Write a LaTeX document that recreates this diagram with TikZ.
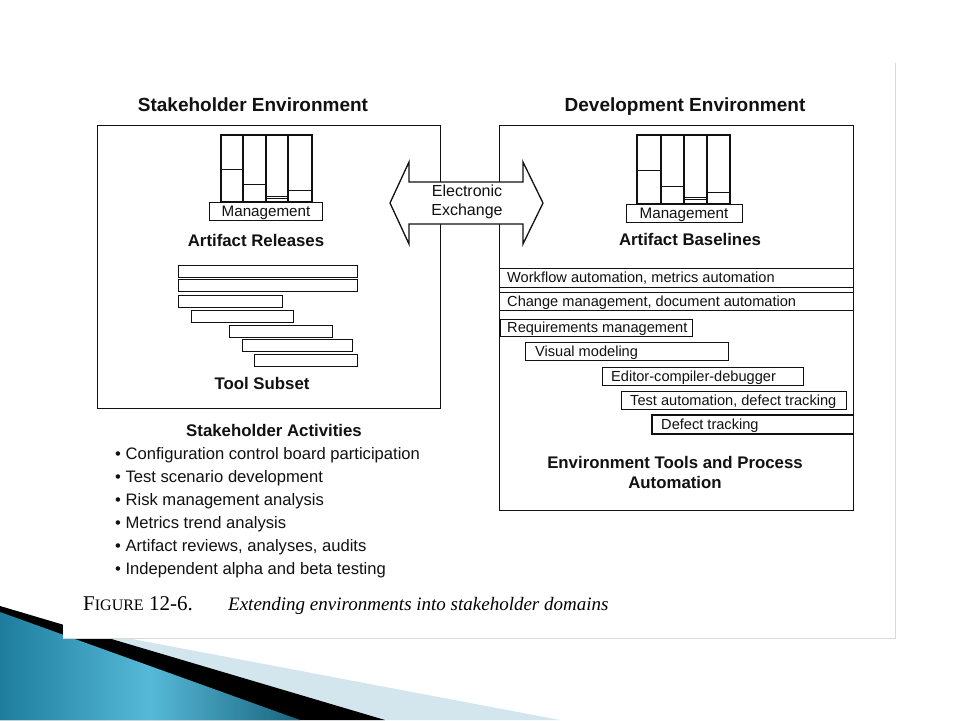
\documentclass[tikz,border=0pt]{standalone}
\usepackage{fontspec}
\setmainfont{Liberation Sans}
\newfontfamily\capfont{Liberation Serif}
\definecolor{decoblue}{HTML}{1E7D9C}
\definecolor{decomid}{HTML}{56B9D8}
\definecolor{decolight}{HTML}{D3E6EE}
\definecolor{ink}{HTML}{111111}
\begin{document}
\begin{tikzpicture}[x=1pt,y=-1pt,
  ln/.style={draw=ink,line width=1.3pt},
  envbox/.style={ln,rectangle,inner sep=0pt,anchor=north west},
  bar/.style={ln,rectangle,inner sep=0pt,anchor=north west,fill=white},
  title/.style={font=\fontsize{19}{22}\selectfont\bfseries,text=ink,anchor=base,inner sep=0pt},
  label/.style={font=\fontsize{16.8}{20}\selectfont\bfseries,text=ink,align=center,anchor=base,inner sep=0pt},
  bartext/.style={font=\fontsize{14.6}{17}\selectfont,text=ink,anchor=base west,inner sep=0pt},
  mgmt/.style={font=\fontsize{15.2}{17}\selectfont,text=ink,inner sep=0pt,anchor=base},
  bullet/.style={font=\fontsize{16.6}{19}\selectfont,text=ink,anchor=base west,inner sep=0pt}]
\useasboundingbox (0,0) rectangle (960,720);
% decoration
\fill[decolight] (0,614) -- (560,720) -- (0,720) -- cycle;
\fill[black] (0,606) -- (385,720) -- (0,720) -- cycle;
\shade[left color=decoblue,right color=decoblue!80!black,middle color=decomid]
  (0,612) -- (300,720) -- (0,720) -- cycle;
% slide picture
\node[fill=white,inner sep=0pt,anchor=north west,
  minimum width=832pt,minimum height=575pt] (sheet) at (63,63) {};
\draw[gray!30,line width=0.8pt] (sheet.north east) -- (sheet.south east) -- (sheet.south west);

% titles
\node[title] (lt) at (253,111) {Stakeholder Environment};
\node[title] (rt) at (685,111) {Development Environment};

% environment boxes
\node[envbox,minimum width=343pt,minimum height=283pt] (lbox) at (97,125) {};
\node[envbox,minimum width=354pt,minimum height=385pt] (rbox) at (499,125) {};

% left artifact columns
\foreach \a/\b/\h in {221/243/169,243/266/184,266/288/196,288/312/190}{
  \draw[ln,line width=1.1pt] (\a,135) rectangle (\b,202);
  \draw[ln,line width=0.9pt] (\a,\h) -- (\b,\h);
}
\draw[ln,line width=0.9pt] (266,198.5) -- (288,198.5);
\node[bar,minimum width=113pt,minimum height=18pt] (lmg) at (209,202) {};
\node[mgmt] (lmgt) at (266,216) {Management};
\node[label] (lrel) at (256,246) {Artifact Releases};

% right artifact columns
\foreach \a/\b/\h in {637/661/170,661/684/186,684/707/197,707/730/192}{
  \draw[ln,line width=1.1pt] (\a,135) rectangle (\b,204);
  \draw[ln,line width=0.9pt] (\a,\h) -- (\b,\h);
}
\draw[ln,line width=0.9pt] (684,199.5) -- (707,199.5);
\node[bar,minimum width=116pt,minimum height=18pt] (rmg) at (626,204) {};
\node[mgmt] (rmgt) at (684,218) {Management};
\node[label] (rbas) at (690,245) {Artifact Baselines};

% tool subset bars
\foreach \n/\x/\y/\w in {1/178/265/179,2/178/279/179,3/178/295/104,4/191/310/102,5/229/325/103,6/242/339/110,7/254/354/103}{
  \node[bar,minimum width=\w pt,minimum height=11.5pt] (ts\n) at (\x,\y) {};
}
\node[label] (tsub) at (262,389) {Tool Subset};

% stakeholder activities
\node[label] (sact) at (274,436) {Stakeholder Activities};
\node[bullet] (b1) at (115,459) {• Configuration control board participation};
\node[bullet] (b2) at (115,482) {• Test scenario development};
\node[bullet] (b3) at (115,505) {• Risk management analysis};
\node[bullet] (b4) at (115,528) {• Metrics trend analysis};
\node[bullet] (b5) at (115,551) {• Artifact reviews, analyses, audits};
\node[bullet] (b6) at (115,574) {• Independent alpha and beta testing};

% development tool bars
\node[bar,minimum width=354pt,minimum height=19pt] (d1) at (499,268) {};
\node[bartext] (d1t) at (507,282.5) {Workflow automation, metrics automation};
\node[bar,minimum width=354pt,minimum height=18pt] (d2) at (499,292) {};
\node[bartext] (d2t) at (507,306) {Change management, document automation};
\node[bar,minimum width=192pt,minimum height=17pt] (d3) at (500,319) {};
\node[bartext] (d3t) at (507,332.5) {Requirements management};
\node[bar,minimum width=203pt,minimum height=18pt] (d4) at (525,342) {};
\node[bartext] (d4t) at (535,356) {Visual modeling};
\node[bar,minimum width=201pt,minimum height=18pt] (d5) at (602,367) {};
\node[bartext] (d5t) at (611,381) {Editor-compiler-debugger};
\node[bar,minimum width=225pt,minimum height=18pt] (d6) at (621,391) {};
\node[bartext] (d6t) at (630,405) {Test automation, defect tracking};
\draw[ln] (rbox.east |- 0,415) -- (652,415) -- (652,434) -- (rbox.east |- 0,434);
\node[bartext] (d7t) at (661,429.5) {Defect tracking};
\node[font=\fontsize{16.8}{20}\selectfont\bfseries,text=ink,align=center,inner sep=0pt] (etp) at (675,472)
  {Environment Tools and Process\\Automation};

% electronic exchange double arrow
\draw[ln,fill=white] (390,203) -- (409,162) -- (409,182) -- (523,182) -- (523,162)
  -- (543,203) -- (523,244) -- (523,224) -- (409,224) -- (409,244) -- cycle;
\node[font=\fontsize{16}{19}\selectfont,text=ink,align=center,inner sep=0pt] (ee) at (467,202)
  {Electronic\\Exchange};

% caption
\node[font=\capfont\fontsize{21}{24}\selectfont,anchor=base west,inner sep=0pt] (capa) at (83,610)
  {F{\fontsize{16}{18}\selectfont IGURE} 12-6.};
\node[font=\capfont\itshape\fontsize{19}{22}\selectfont,anchor=base west,inner sep=0pt] (capb) at (228,610)
  {Extending environments into stakeholder domains};
\end{tikzpicture}
\end{document}
